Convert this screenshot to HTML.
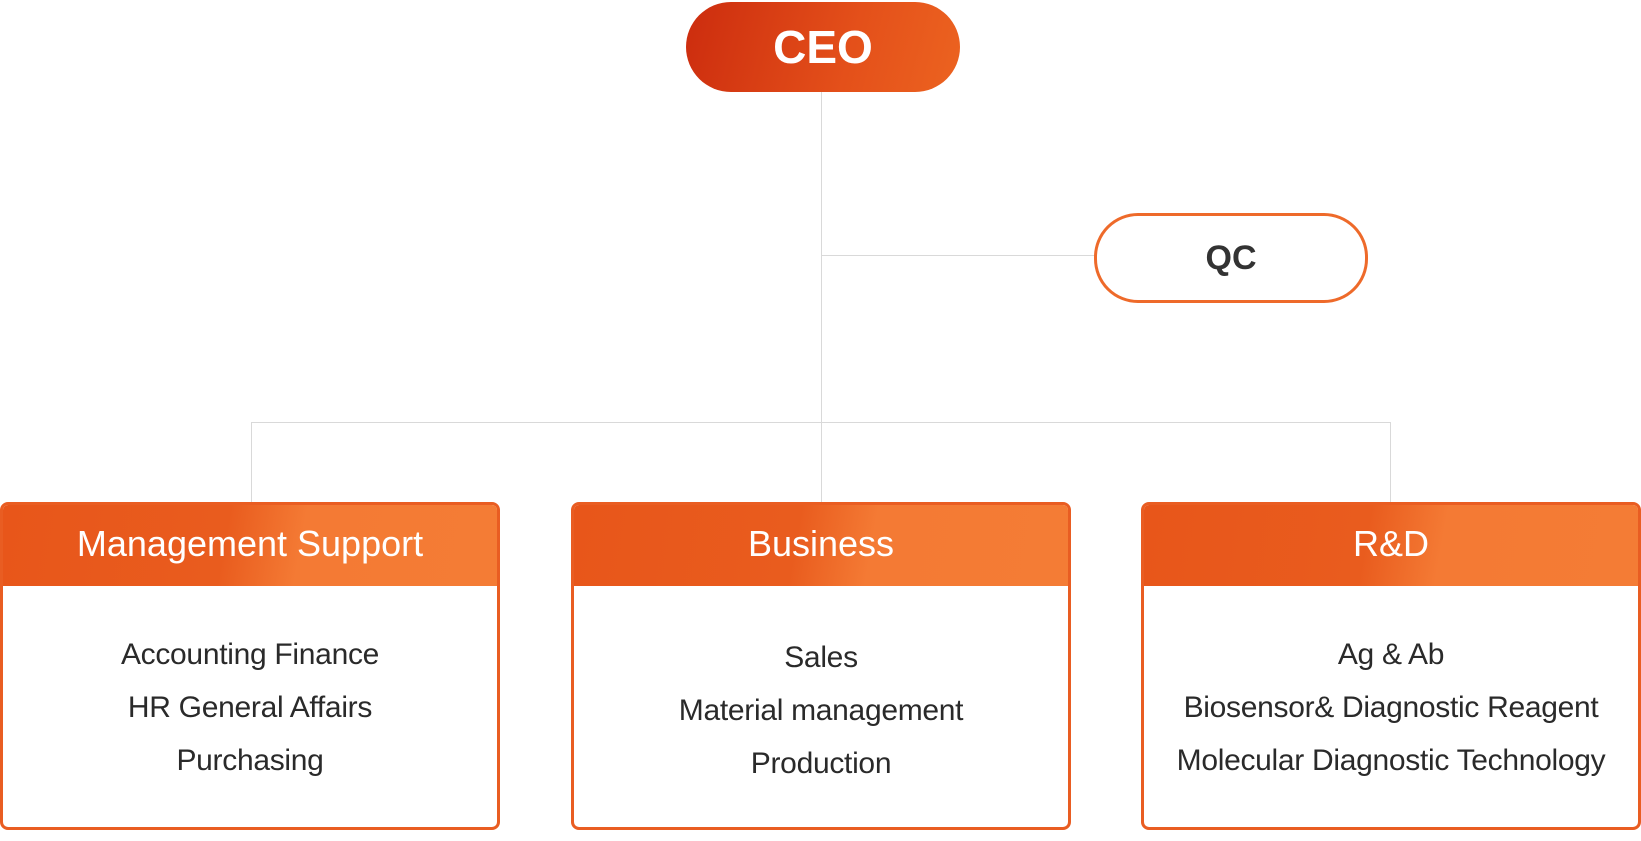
<!DOCTYPE html>
<html><head><style>
body{margin:0;width:1641px;height:841px;background:#fff;position:relative;overflow:hidden;font-family:"Liberation Sans",sans-serif}
.a{position:absolute}
.ln{position:absolute;background:#d9d9d9}
.ceo{left:686px;top:2px;width:274px;height:90px;border-radius:45px;background:linear-gradient(105deg,#cc2c0e 0%,#e4501a 60%,#ec6320 100%);color:#fff;font-weight:bold;font-size:46px;display:flex;align-items:center;justify-content:center}
.qc{left:1094px;top:213px;width:268px;height:84px;border-radius:44px;border:3px solid #ee6a2a;color:#333;font-weight:bold;font-size:34px;display:flex;align-items:center;justify-content:center;background:#fff}
.box{top:502px;height:328px;border:3px solid #e95d22;border-radius:8px;box-sizing:border-box;width:500px;background:#fff;overflow:hidden}
.hd{height:84px;background:linear-gradient(100deg,#e8561a 0%,#e95c1e 45%,#f47a34 60%,#f47c35 100%);color:#fff;font-size:36px;display:flex;align-items:center;justify-content:center;margin:-3px -3px 0 -3px}
.it{position:absolute;left:-20px;right:-20px;text-align:center;color:#2a2a2a;font-size:30px;letter-spacing:-0.3px}
</style></head><body>
<div class="ln" style="left:821px;top:92px;width:1px;height:410px"></div>
<div class="ln" style="left:822px;top:255px;width:272px;height:1px"></div>
<div class="ln" style="left:251px;top:422px;width:1140px;height:1px"></div>
<div class="ln" style="left:251px;top:422px;width:1px;height:80px"></div>
<div class="ln" style="left:1390px;top:422px;width:1px;height:80px"></div>
<div class="a ceo">CEO</div>
<div class="a qc">QC</div>
<div class="a box" style="left:0">
<div class="hd">Management Support</div>
<div class="it" style="top:133px">Accounting Finance</div>
<div class="it" style="top:186px">HR General Affairs</div>
<div class="it" style="top:239px">Purchasing</div>
</div>
<div class="a box" style="left:571px">
<div class="hd">Business</div>
<div class="it" style="top:136px">Sales</div>
<div class="it" style="top:189px">Material management</div>
<div class="it" style="top:242px">Production</div>
</div>
<div class="a box" style="left:1141px">
<div class="hd">R&amp;D</div>
<div class="it" style="top:133px">Ag &amp; Ab</div>
<div class="it" style="top:186px">Biosensor&amp; Diagnostic Reagent</div>
<div class="it" style="top:239px">Molecular Diagnostic Technology</div>
</div>
</body></html>
